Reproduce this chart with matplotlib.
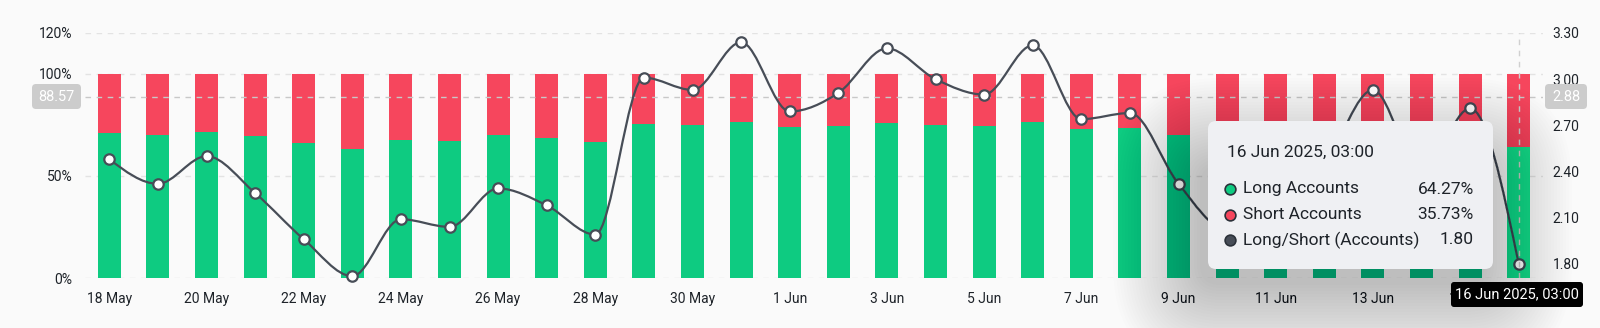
import matplotlib
matplotlib.use("Agg")
import matplotlib.pyplot as plt
import numpy as np
from matplotlib.path import Path
from matplotlib.patches import PathPatch, FancyBboxPatch

plt.rcParams["font.family"] = ["Roboto", "DejaVu Sans"]

days = ["18 May", "19 May", "20 May", "21 May", "22 May", "23 May", "24 May",
        "25 May", "26 May", "27 May", "28 May", "29 May", "30 May", "31 May",
        "1 Jun", "2 Jun", "3 Jun", "4 Jun", "5 Jun", "6 Jun", "7 Jun", "8 Jun",
        "9 Jun", "10 Jun", "11 Jun", "12 Jun", "13 Jun", "14 Jun", "15 Jun",
        "16 Jun"]
long_pct = [71.2, 69.8, 71.5, 69.4, 66.2, 63.1, 67.8, 67.0, 69.8, 68.5,
            66.5, 75.2, 74.7, 76.4, 73.8, 74.3, 76.1, 75.0, 74.3, 76.3,
            73.2, 73.7, 69.8, 66.9, 68.8, 71.0, 74.5, 70.6, 73.8, 64.27]
ratio = [2.48, 2.32, 2.50, 2.26, 1.96, 1.72, 2.09, 2.04, 2.29, 2.18,
         1.99, 3.01, 2.93, 3.24, 2.79, 2.91, 3.20, 3.00, 2.90, 3.22,
         2.74, 2.78, 2.32, 2.02, 2.20, 2.45, 2.93, 2.40, 2.81, 1.80]
short_pct = [100 - v for v in long_pct]
left_ticks = [0, 50, 100, 120]
right_ticks = [1.80, 2.10, 2.40, 2.70, 3.00, 3.30]
cross_pct = 88.57
cross_ratio = 2.88

GREEN = "#0ecb81"
GREEN_HI = "#1ee08f"
RED = "#f6465d"
LINE = "#474d57"
TXT = "#1e2329"
BG = "#fafafa"

W, H = 1600, 328
fig = plt.figure(figsize=(16, 3.28), dpi=100, facecolor=BG)
ax = fig.add_axes([85 / W, 50 / H, 1458 / W, 245 / H])
ax.set_facecolor(BG)
x = np.arange(len(days))

gcol = [GREEN] * (len(x) - 1) + [GREEN_HI]
ax.bar(x, long_pct, width=0.47, color=gcol, zorder=2)
ax.bar(x, short_pct, bottom=long_pct, width=0.47, color=RED, zorder=2)

ax.set_xlim(-0.5, len(x) - 0.5)
ax.set_ylim(0, 120)
ax.set_yticks(left_ticks)
ax.set_yticklabels([f"{v}%" for v in left_ticks])
ax.set_xticks(x[::2])
ax.set_xticklabels(days[::2])
ax.tick_params(axis="both", length=0, labelsize=10, colors=TXT)
ax.tick_params(axis="y", pad=9)
ax.tick_params(axis="x", pad=10)
for v in left_ticks:
    ax.axhline(v, color="#e3e3e3", lw=1, ls=(0, (4, 4)), zorder=1)
for s in ax.spines.values():
    s.set_visible(False)

ax2 = ax.twinx()
ax2.set_ylim(1.708, 3.30)
ax2.set_yticks(right_ticks)
ax2.set_yticklabels([f"{v:.2f}" for v in right_ticks])
ax2.tick_params(axis="y", length=0, labelsize=10, colors=TXT, pad=7)
for s in ax2.spines.values():
    s.set_visible(False)

# monotone cubic curve through the ratio points
y = np.array(ratio)
sl = np.diff(y)
t = np.zeros(len(y))
for i in range(1, len(y) - 1):
    if sl[i - 1] * sl[i] > 0:
        p = (sl[i - 1] + sl[i]) / 2
        t[i] = 2 * np.sign(sl[i]) * min(abs(sl[i - 1]), abs(sl[i]), 0.5 * abs(p))
t[0] = (3 * sl[0] - t[1]) / 2
t[-1] = (3 * sl[-1] - t[-2]) / 2
verts = [(x[0], y[0])]
codes = [Path.MOVETO]
for i in range(len(y) - 1):
    verts += [(x[i] + 1 / 3, y[i] + t[i] / 3),
              (x[i + 1] - 1 / 3, y[i + 1] - t[i + 1] / 3),
              (x[i + 1], y[i + 1])]
    codes += [Path.CURVE4] * 3
ax2.add_patch(PathPatch(Path(verts, codes), facecolor="none",
                        edgecolor=LINE, lw=1.6, zorder=3))
ax2.plot(x, ratio, "o", ms=7.5, mfc="white", mec=LINE, mew=1.6,
         zorder=4, clip_on=False)

# crosshair
ax.axhline(cross_pct, color="#c8c8c8", lw=1, ls=(0, (4, 4)), zorder=5)
ax2.plot([x[-1], x[-1]], [1.708, 3.30], color="#d0d0d0", lw=1,
         ls=(0, (4, 4)), zorder=5)

# overlay in pixel coordinates for labels and tooltip
ov = fig.add_axes([0, 0, 1, 1])
ov.set_xlim(0, W)
ov.set_ylim(H, 0)
ov.set_axis_off()


def box(x0, y0, w, h, fc, r=4, z=10, alpha=1.0):
    ov.add_patch(FancyBboxPatch((x0, y0), w, h,
                                boxstyle=f"round,pad=0,rounding_size={r}",
                                fc=fc, ec="none", zorder=z, alpha=alpha))


box(32, 84, 49, 25, "#cccccc")
ov.text(56.5, 97, f"{cross_pct:.2f}", color="white", fontsize=10.5,
        ha="center", va="center", zorder=11)
box(1545, 84, 42, 25, "#cccccc")
ov.text(1566, 97, f"{cross_ratio:.2f}", color="white", fontsize=10.5,
        ha="center", va="center", zorder=11)

# tooltip soft shadow, pushed down and left
for k in range(30):
    s = 3 * k
    box(1200 - s, 165 - s, 285 + 2 * s, 120 + 2 * s, "black",
        r=20 + s, z=8, alpha=0.009)
box(1208, 121, 285, 148, "#eff0f3", r=8, z=9)
ov.text(1227, 152, "16 Jun 2025, 03:00", fontsize=12.5, color=TXT,
        ha="left", va="center", zorder=11)
rows = [("Long Accounts", f"{long_pct[-1]:.2f}%", GREEN),
        ("Short Accounts", f"{short_pct[-1]:.2f}%", RED),
        ("Long/Short (Accounts)", f"{ratio[-1]:.2f}", LINE)]
for j, (lab, val, c) in enumerate(rows):
    yy = 189 + 25.5 * j
    ov.scatter([1230], [yy], s=60, c=c, edgecolors="#2b3139",
               linewidths=1.2, zorder=11)
    ov.text(1243, yy, lab, fontsize=12.5, color=TXT, ha="left",
            va="center", zorder=11)
    ov.text(1474, yy, val, fontsize=12.5, color=TXT, ha="right",
            va="center", zorder=11)

box(1451, 282, 132, 25, "black", r=3)
ov.text(1517, 294.5, "16 Jun 2025, 03:00", color="white", fontsize=10.5,
        ha="center", va="center", zorder=11)

fig.savefig("out.png", dpi=100, facecolor=BG)
